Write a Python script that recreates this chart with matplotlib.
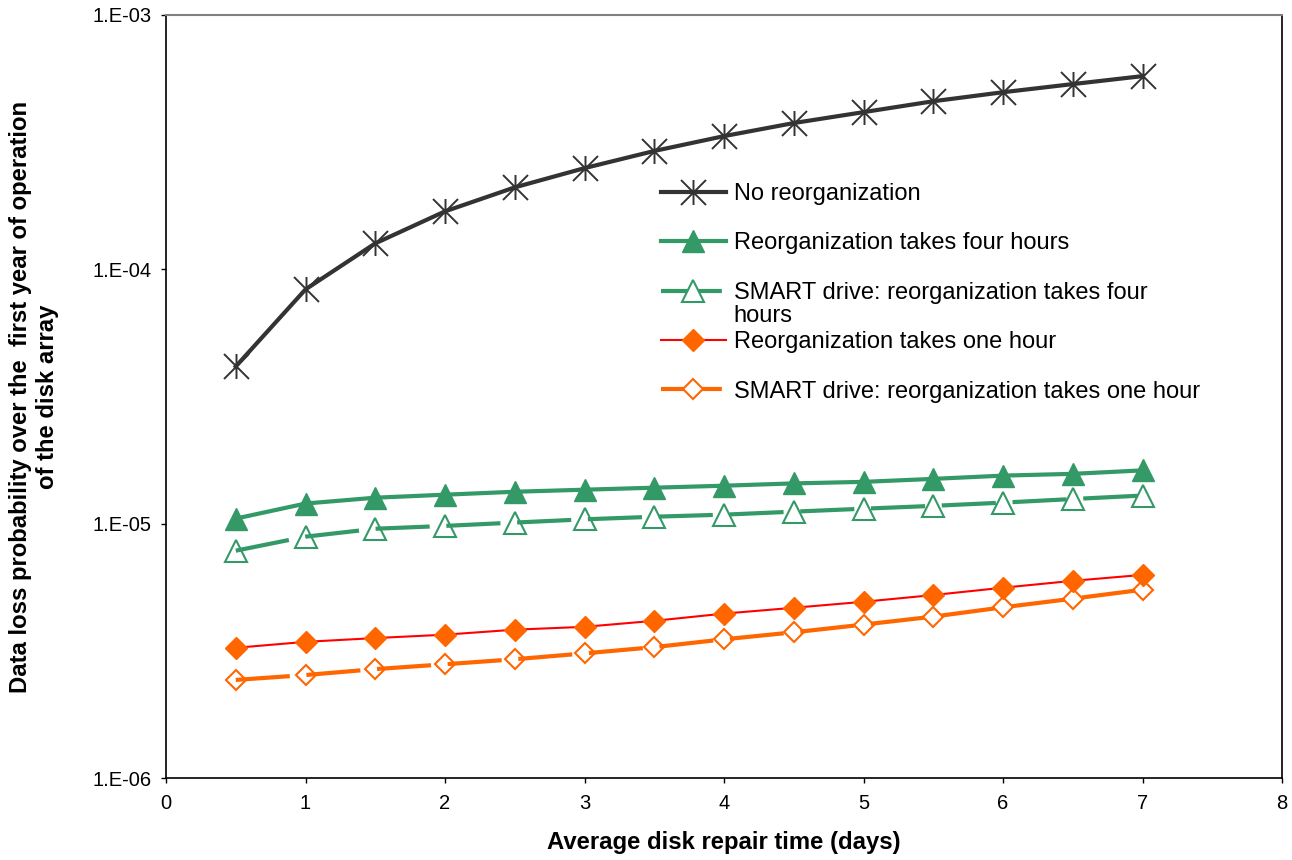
import math
import matplotlib
matplotlib.use("Agg")
import matplotlib.pyplot as plt
from matplotlib.path import Path
from matplotlib.lines import Line2D
from matplotlib.ticker import FixedLocator, FuncFormatter, NullLocator

plt.rcParams['font.family'] = ['Liberation Sans', 'DejaVu Sans']

repair_days = [0.5, 1, 1.5, 2, 2.5, 3, 3.5, 4, 4.5, 5, 5.5, 6, 6.5, 7]

no_reorg = [4.15e-5, 8.34e-5, 1.265e-4, 1.69e-4, 2.10e-4, 2.50e-4, 2.92e-4,
            3.34e-4, 3.76e-4, 4.15e-4, 4.58e-4, 4.97e-4, 5.35e-4, 5.75e-4]
reorg_4h = [1.047e-5, 1.20e-5, 1.265e-5, 1.30e-5, 1.335e-5, 1.36e-5, 1.385e-5,
            1.41e-5, 1.44e-5, 1.46e-5, 1.50e-5, 1.545e-5, 1.57e-5, 1.62e-5]
smart_4h = [7.83e-6, 8.89e-6, 9.55e-6, 9.8e-6, 1.01e-5, 1.04e-5, 1.065e-5,
            1.085e-5, 1.115e-5, 1.145e-5, 1.175e-5, 1.21e-5, 1.25e-5, 1.29e-5]
reorg_1h = [3.25e-6, 3.43e-6, 3.55e-6, 3.66e-6, 3.83e-6, 3.93e-6, 4.15e-6,
            4.43e-6, 4.67e-6, 4.93e-6, 5.24e-6, 5.60e-6, 5.96e-6, 6.29e-6]
smart_1h = [2.43e-6, 2.54e-6, 2.68e-6, 2.80e-6, 2.93e-6, 3.09e-6, 3.27e-6,
            3.51e-6, 3.74e-6, 4.01e-6, 4.31e-6, 4.69e-6, 5.07e-6, 5.50e-6]

labels = ["No reorganization",
          "Reorganization takes four hours",
          "SMART drive: reorganization takes four",
          "Reorganization takes one hour",
          "SMART drive: reorganization takes one hour"]
label_wrap = "hours"

x_ticks = [0, 1, 2, 3, 4, 5, 6, 7, 8]
y_ticks = [1e-6, 1e-5, 1e-4, 1e-3]

W, H = 1292, 860
fig = plt.figure(figsize=(W / 100, H / 100), dpi=100)
ax = fig.add_axes([166 / W, 1 - 778 / H, (1282 - 166) / W, (778 - 15) / H])

star = Path([(-1, -1), (1, 1), (-1, 1), (1, -1), (0, -1), (0, 1)],
            [Path.MOVETO, Path.LINETO, Path.MOVETO, Path.LINETO, Path.MOVETO, Path.LINETO])

green = '#339966'
orange = '#FF6600'
dark = '#333333'
red = '#FF0000'
dash = (0, (13, 4))

ax.plot(repair_days, no_reorg, color=dark, lw=3, marker=star, ms=18, mec=dark, mew=1.4)
ax.plot(repair_days, reorg_4h, color=green, lw=3, marker='^', ms=16, mfc=green, mec=green)
ax.plot(repair_days, smart_4h, color=green, lw=3, ls=dash, marker='^', ms=16,
        mfc='none', mec=green, mew=1.5)
ax.plot(repair_days, reorg_1h, color=red, lw=1.5, marker='D', ms=11, mfc=orange, mec=orange)
ax.plot(repair_days, smart_1h, color=orange, lw=3, ls=dash, marker='D', ms=10.5,
        mfc='none', mec=orange, mew=1.5)

ax.set_yscale('log')
ax.set_xlim(0, 8)
ax.set_ylim(1e-6, 1e-3)
ax.xaxis.set_major_locator(FixedLocator(x_ticks))
ax.yaxis.set_major_locator(FixedLocator(y_ticks))
ax.yaxis.set_minor_locator(NullLocator())
ax.yaxis.set_major_formatter(FuncFormatter(lambda v, p: "1.E-%02d" % round(-math.log10(v))))
ax.tick_params(axis='both', direction='out', length=3.6, width=1, labelsize=14.5, colors='black')
ax.tick_params(axis='x', pad=8)
ax.tick_params(axis='y', pad=6.5)
for s in ['left', 'bottom', 'right']:
    ax.spines[s].set_color('black')
    ax.spines[s].set_linewidth(1.2)
ax.spines['top'].set_color('#808080')
ax.spines['top'].set_linewidth(1.5)

fig.text(724 / W, 1 - 842 / H, "Average disk repair time (days)", ha='center', va='center',
         fontsize=17.2, fontweight='bold')
fig.text(34 / W, 1 - 397 / H,
         "Data loss probability over the  first year of operation\nof the disk array",
         ha='center', va='center', rotation=90, fontsize=17.2, fontweight='bold',
         multialignment='center', linespacing=1.17)

# legend proxies (styling only)
hdash = (0, (6.5, 1.6))
proxies = [
    Line2D([], [], color=dark, lw=3, marker=star, ms=18, mec=dark, mew=1.4),
    Line2D([], [], color=green, lw=3, marker='^', ms=16, mfc=green, mec=green),
    Line2D([], [], color=green, lw=3, ls=hdash, marker='^', ms=16, mfc='white', mec=green, mew=1.5),
    Line2D([], [], color=red, lw=1.5, marker='D', ms=11, mfc=orange, mec=orange),
    Line2D([], [], color=orange, lw=3, ls=hdash, marker='D', ms=10.5, mfc='white', mec=orange, mew=1.5),
]
leg = ax.legend(proxies, labels, loc='upper left',
                bbox_to_anchor=(661 / W, 1 - 183 / H), bbox_transform=fig.transFigure,
                frameon=False, fontsize=17, handlelength=2.75, handletextpad=0.34,
                labelspacing=1.16, borderpad=0, borderaxespad=0)
fig.text(733 / W, 1 - 316 / H, label_wrap, ha='left', va='center', fontsize=17)

fig.savefig("out.png", dpi=100)
